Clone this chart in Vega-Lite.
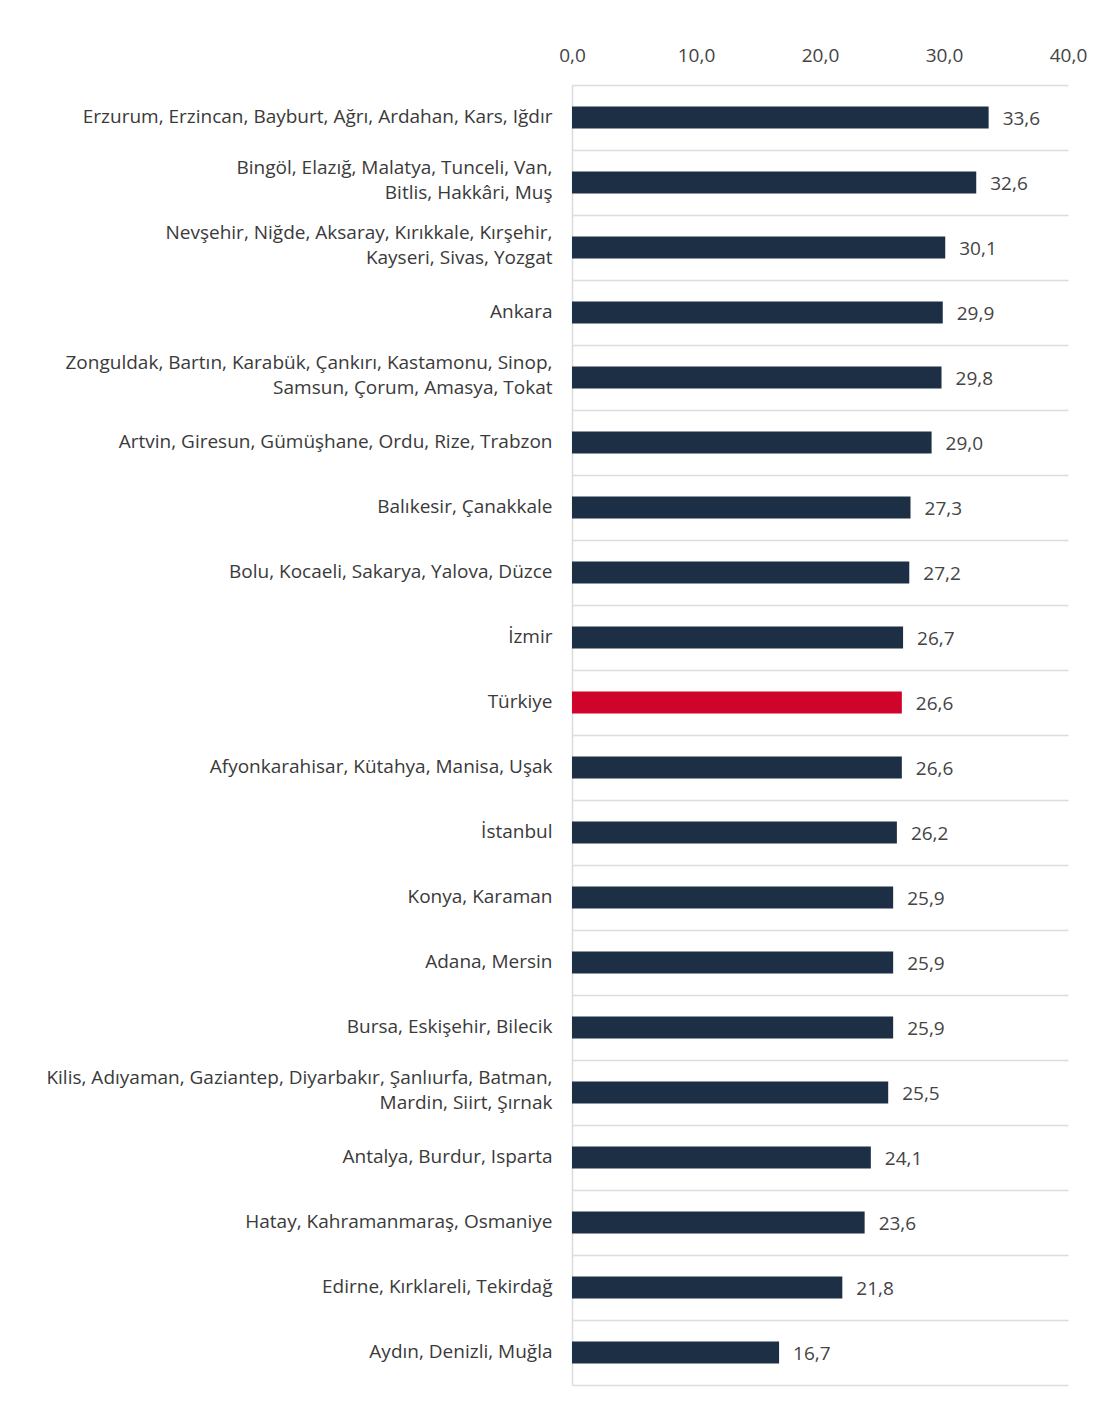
{
  "$schema": "https://vega.github.io/schema/vega-lite/v6.json",
  "autosize": {"type": "none"},
  "padding": {"left": 572, "top": 85, "right": 46, "bottom": 25},
  "width": 496,
  "height": 1300,
  "background": "white",
  "config": {
    "view": {"stroke": null},
    "font": "Open Sans",
    "locale": {"number": {"decimal": ",", "thousands": ".", "grouping": [3], "currency": ["", ""]}}
  },
  "data": {
    "values": [
      {"region": "Erzurum, Erzincan, Bayburt, Ağrı, Ardahan, Kars, Iğdır", "value": 33.6, "kind": "region"},
      {"region": "Bingöl, Elazığ, Malatya, Tunceli, Van,|Bitlis, Hakkâri, Muş", "value": 32.6, "kind": "region"},
      {"region": "Nevşehir, Niğde, Aksaray, Kırıkkale, Kırşehir,|Kayseri, Sivas, Yozgat", "value": 30.1, "kind": "region"},
      {"region": "Ankara", "value": 29.9, "kind": "region"},
      {"region": "Zonguldak, Bartın, Karabük, Çankırı, Kastamonu, Sinop,|Samsun, Çorum, Amasya, Tokat", "value": 29.8, "kind": "region"},
      {"region": "Artvin, Giresun, Gümüşhane, Ordu, Rize, Trabzon", "value": 29.0, "kind": "region"},
      {"region": "Balıkesir, Çanakkale", "value": 27.3, "kind": "region"},
      {"region": "Bolu, Kocaeli, Sakarya, Yalova, Düzce", "value": 27.2, "kind": "region"},
      {"region": "İzmir", "value": 26.7, "kind": "region"},
      {"region": "Türkiye", "value": 26.6, "kind": "country"},
      {"region": "Afyonkarahisar, Kütahya, Manisa, Uşak", "value": 26.6, "kind": "region"},
      {"region": "İstanbul", "value": 26.2, "kind": "region"},
      {"region": "Konya, Karaman", "value": 25.9, "kind": "region"},
      {"region": "Adana, Mersin", "value": 25.9, "kind": "region"},
      {"region": "Bursa, Eskişehir, Bilecik", "value": 25.9, "kind": "region"},
      {"region": "Kilis, Adıyaman, Gaziantep, Diyarbakır, Şanlıurfa, Batman,|Mardin, Siirt, Şırnak", "value": 25.5, "kind": "region"},
      {"region": "Antalya, Burdur, Isparta", "value": 24.1, "kind": "region"},
      {"region": "Hatay, Kahramanmaraş, Osmaniye", "value": 23.6, "kind": "region"},
      {"region": "Edirne, Kırklareli, Tekirdağ", "value": 21.8, "kind": "region"},
      {"region": "Aydın, Denizli, Muğla", "value": 16.7, "kind": "region"}
    ]
  },
  "encoding": {
    "y": {
      "field": "region",
      "type": "nominal",
      "sort": null,
      "scale": {"paddingInner": 0, "paddingOuter": 0},
      "axis": {
        "title": null,
        "labelExpr": "isValid(datum.value) ? split(datum.value, '|') : ''",
        "labelFont": "Open Sans",
        "labelFontSize": 19,
        "labelColor": "#3a3a3a",
        "labelLineHeight": 25,
        "labelPadding": 20,
        "labelLimit": 600,
        "labelOffset": {"expr": "isValid(datum.value) && indexof(datum.value, '|') >= 0 ? -15 : -1"},
        "ticks": false,
        "tickBand": "extent",
        "grid": true,
        "gridColor": "#dcdcdc",
        "gridWidth": 1.5,
        "domain": true,
        "domainColor": "#dcdcdc",
        "domainWidth": 1.5
      }
    },
    "x": {
      "field": "value",
      "type": "quantitative",
      "scale": {"domain": [0, 40], "nice": false},
      "axis": {
        "orient": "top",
        "title": null,
        "values": [0, 10, 20, 30, 40],
        "format": ".1f",
        "labelFont": "Open Sans",
        "labelFontSize": 19,
        "labelColor": "#444444",
        "labelPadding": 20,
        "labelFlush": false,
        "ticks": false,
        "domain": false,
        "grid": false
      }
    }
  },
  "layer": [
    {
      "mark": {"type": "bar", "size": 22},
      "encoding": {
        "color": {
          "field": "kind",
          "type": "nominal",
          "scale": {"domain": ["region", "country"], "range": ["#1d2f45", "#d0032b"]},
          "legend": null
        }
      }
    },
    {
      "mark": {"type": "text", "align": "left", "baseline": "middle", "dx": 14, "dy": 1, "font": "Open Sans", "fontSize": 19, "color": "#444444"},
      "encoding": {
        "text": {"field": "value", "type": "quantitative", "format": ".1f"}
      }
    }
  ]
}
